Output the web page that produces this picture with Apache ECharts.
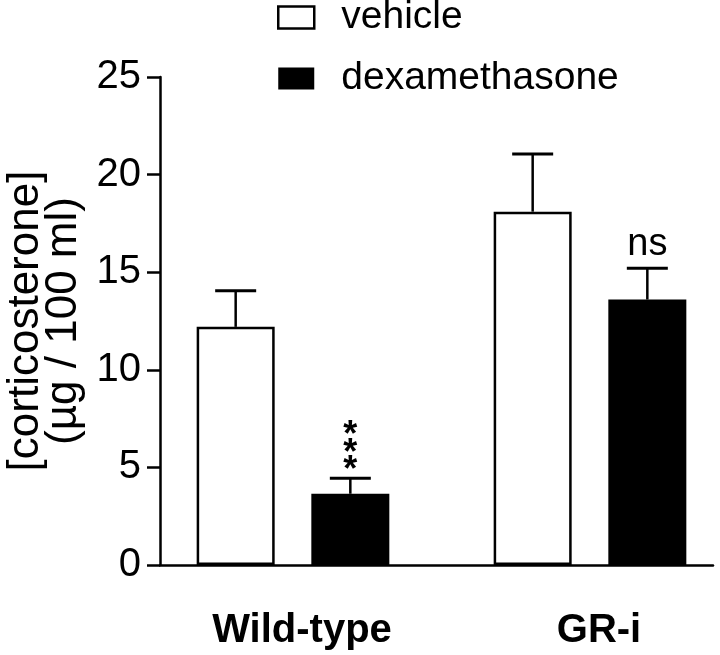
<!DOCTYPE html>
<html><head><meta charset="utf-8">
<script src="https://cdn.jsdelivr.net/npm/echarts@6/dist/echarts.min.js"></script>
<style>html,body{margin:0;padding:0;background:#fff}#c{width:720px;height:655px}</style>
</head><body><div id="c"></div>
<script>
// ---- data ----
const categories = ['Wild-type', 'GR-i'];
const vehicleMean = [12.2, 18.1];
const vehicleErr = [1.85, 2.95];
const dexMean = [3.65, 13.6];
const dexErr = [0.8, 1.6];
const vehicleSig = ['', ''];
const dexSig = ['***', 'ns'];
const yMin = 0, yMax = 25, yStep = 5;

// ---- style constants ----
const FONT = 'Liberation Sans';
const BAR_W = 78;
const GAP = 0.47;
const CAP = 41;

function errSeries(name, means, errs, sigs, sign) {
  return {
    type: 'custom', name: name + ' err', xAxisIndex: 0, yAxisIndex: 0, silent: true, z: 5,
    data: means.map((m, i) => [i, m, errs[i]]),
    encode: { x: 0, y: 1 },
    renderItem(params, api) {
      const i = api.value(0), m = api.value(1), e = api.value(2);
      const sig = sigs[params.dataIndex];
      const off = sign * BAR_W * (1 + GAP) / 2;
      const base = api.coord([i, m]);
      const top = api.coord([i, m + e]);
      const x = base[0] + off;
      const children = [
        { type: 'line', shape: { x1: x, y1: base[1], x2: x, y2: top[1] }, style: { stroke: '#000', lineWidth: 2.5 } },
        { type: 'line', shape: { x1: x - CAP / 2, y1: top[1], x2: x + CAP / 2, y2: top[1] }, style: { stroke: '#000', lineWidth: 3 } }
      ];
      if (sig) {
        const stars = /^\*+$/.test(sig);
        children.push({
          type: 'text', x: x, y: stars ? top[1] + 2 : top[1] - 5,
          style: stars
            ? { text: sig.split('').join('\n'), fontSize: 36, fontWeight: 'bold', lineHeight: 17.5, fontFamily: FONT, fill: '#000', align: 'center', verticalAlign: 'bottom' }
            : { text: sig, fontSize: 38, lineHeight: 38, fontFamily: FONT, fill: '#000', align: 'center', verticalAlign: 'bottom' }
        });
      }
      return { type: 'group', children };
    }
  };
}

const chart = echarts.init(document.getElementById('c'), null, { renderer: 'canvas' });
chart.setOption({
  backgroundColor: '#fff',
  animation: false,
  textStyle: { fontFamily: FONT, color: '#000' },
  legend: {
    orient: 'vertical', left: 277, top: -2, padding: 0,
    itemWidth: 36, itemHeight: 22, itemGap: 22, selectedMode: false,
    textStyle: { fontSize: 39, fontFamily: FONT, color: '#000', padding: [0, 0, 0, 22] },
    data: [
      { name: 'vehicle', icon: 'rect', itemStyle: { color: '#fff', borderColor: '#000', borderWidth: 2.5 } },
      { name: 'dexamethasone', icon: 'rect', itemStyle: { color: '#000', borderWidth: 0 } }
    ]
  },
  grid: [
    { left: 144.5, width: 594, top: 77, bottom: 90, outerBoundsMode: 'none', containLabel: false },
    { left: 160, right: 7, top: 77, bottom: 90, outerBoundsMode: 'none', containLabel: false }
  ],
  xAxis: [
    {
      type: 'category', gridIndex: 0, data: categories,
      axisLine: { show: false }, axisTick: { show: false },
      axisLabel: { fontSize: 40, fontWeight: 'bold', color: '#000', fontFamily: FONT, margin: 46, padding: [0, 0, 0, 18] }
    },
    {
      type: 'value', gridIndex: 1, min: 0, max: 1,
      axisLine: { show: true, lineStyle: { color: '#000', width: 2.5 } },
      axisTick: { show: false }, axisLabel: { show: false }, splitLine: { show: false }
    }
  ],
  yAxis: [
    { type: 'value', gridIndex: 0, min: yMin, max: yMax, interval: yStep, show: false },
    {
      type: 'value', gridIndex: 1, min: yMin, max: yMax, interval: yStep,
      name: '[corticosterone]\n(µg / 100 ml)', nameLocation: 'middle', nameRotate: 90, nameGap: 76,
      nameTextStyle: { fontSize: 44, lineHeight: 38, fontFamily: FONT, color: '#000' },
      axisLine: { show: true, lineStyle: { color: '#000', width: 2.5 } },
      axisTick: { show: true, length: 13, inside: false, lineStyle: { color: '#000', width: 2.5 } },
      axisLabel: { fontSize: 40, color: '#000', fontFamily: FONT, margin: 19 },
      splitLine: { show: false }
    }
  ],
  series: [
    {
      name: 'vehicle', type: 'bar', xAxisIndex: 0, yAxisIndex: 0, data: vehicleMean,
      barWidth: BAR_W, barGap: (GAP * 100) + '%',
      itemStyle: { color: '#fff', borderColor: '#000', borderWidth: 2.5 }
    },
    {
      name: 'dexamethasone', type: 'bar', xAxisIndex: 0, yAxisIndex: 0, data: dexMean,
      barWidth: BAR_W, barGap: (GAP * 100) + '%',
      itemStyle: { color: '#000' }
    },
    errSeries('vehicle', vehicleMean, vehicleErr, vehicleSig, -1),
    errSeries('dexamethasone', dexMean, dexErr, dexSig, 1)
  ]
});
</script>
</body></html>
